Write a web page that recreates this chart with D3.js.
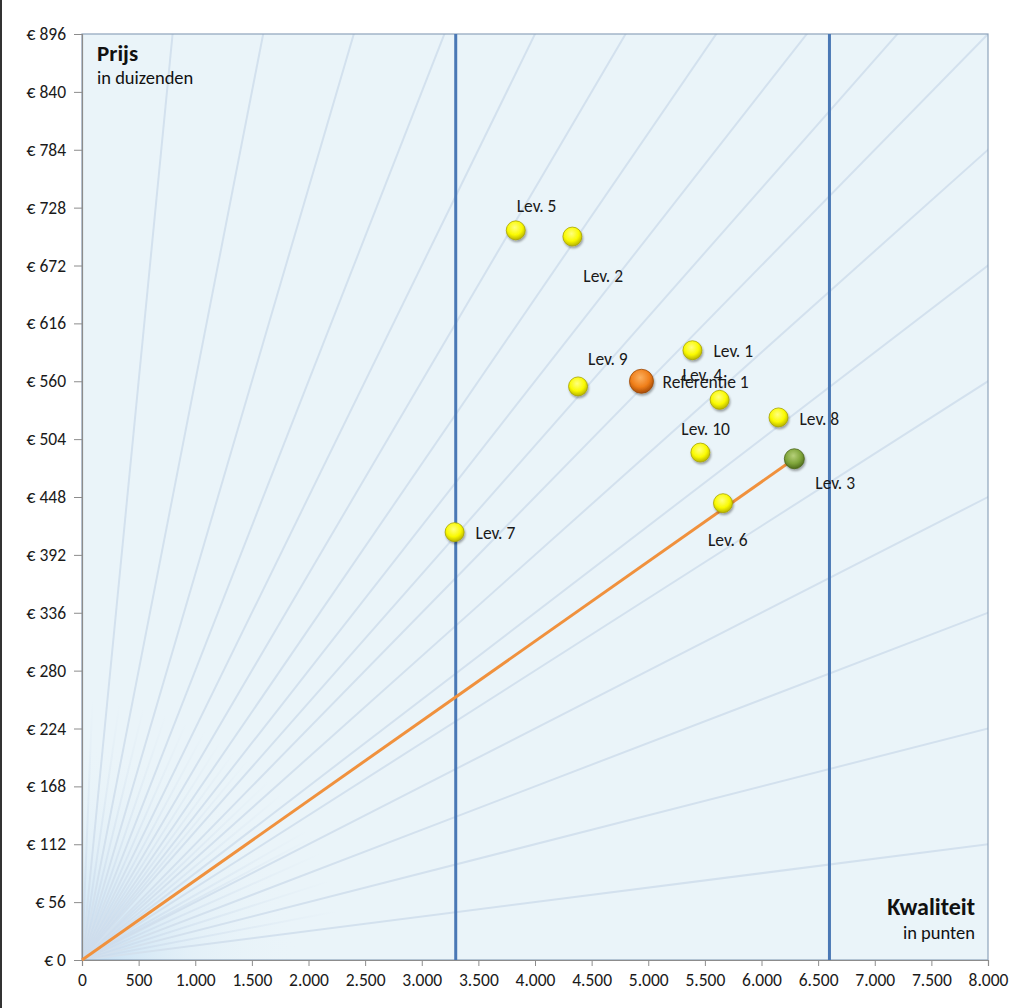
<!DOCTYPE html>
<html>
<head>
<meta charset="utf-8">
<script src="https://cdn.jsdelivr.net/npm/d3@7/dist/d3.min.js"></script>
<style>
  html, body { margin: 0; padding: 0; background: #ffffff; }
  svg { display: block; font-family: Carlito, Lato, "Open Sans", sans-serif; }
</style>
</head>
<body>
<svg id="chart" width="1024" height="1008"></svg>
<script>
// ---- data ----
const labels   = ["Lev. 5", "Lev. 2", "Lev. 1", "Lev. 9", "Referentie 1", "Lev. 4", "Lev. 8", "Lev. 10", "Lev. 3", "Lev. 6", "Lev. 7"];
const quality  = [3830, 4330, 5390, 4380, 4940, 5630, 6150, 5460, 6290, 5660, 3290];
const price    = [706, 700, 590, 555, 560, 542, 525, 491, 485, 442, 414];
const kinds    = ["lev", "lev", "lev", "lev", "ref", "lev", "lev", "lev", "best", "lev", "lev"];
const labelPos = ["above", "belowRight", "right", "aboveRight", "right", "aboveLeft", "right", "aboveLeftSmall", "rightLow", "below", "right"];
const xTicks   = [0, 500, 1000, 1500, 2000, 2500, 3000, 3500, 4000, 4500, 5000, 5500, 6000, 6500, 7000, 7500, 8000];
const yTicks   = [0, 56, 112, 168, 224, 280, 336, 392, 448, 504, 560, 616, 672, 728, 784, 840, 896];
const bounds   = [3300, 6600];
const bestLine = [[0, 0], [6290, 485]];
const raysTop  = [800, 1600, 2400, 3200, 4000, 4800, 5600, 6400, 7200];
const raysRight= [112, 224, 336, 448, 560, 672, 784, 896];

// ---- layout ----
const svg = d3.select("#chart");
const L = 82, R = 988, T = 34, B = 960;
const x = d3.scaleLinear().domain([0, 8000]).range([L, R]);
const y = d3.scaleLinear().domain([0, 896]).range([B, T]);
const nl = d3.formatLocale({decimal: ",", thousands: ".", grouping: [3], currency: ["€ ", ""]});
const fx = nl.format(",.0f");
const FONT = "Carlito, Lato, 'Open Sans', sans-serif";

const defs = svg.append("defs");
defs.append("clipPath").attr("id", "clip").append("rect")
  .attr("x", L).attr("y", T).attr("width", R - L).attr("height", B - T);
const glow = defs.append("radialGradient").attr("id", "glow")
  .attr("gradientUnits", "userSpaceOnUse").attr("cx", L).attr("cy", B).attr("r", 220);
glow.append("stop").attr("offset", "0").attr("stop-color", "#bcdaf2").attr("stop-opacity", 0.9);
glow.append("stop").attr("offset", "0.5").attr("stop-color", "#d6e9f6").attr("stop-opacity", 0.35);
glow.append("stop").attr("offset", "1").attr("stop-color", "#eaf4f9").attr("stop-opacity", 0);

function ball(id, c0, c1, c2) {
  const g = defs.append("radialGradient").attr("id", id)
    .attr("cx", "45%").attr("cy", "35%").attr("r", "65%");
  g.append("stop").attr("offset", "0").attr("stop-color", c0);
  g.append("stop").attr("offset", "0.6").attr("stop-color", c1);
  g.append("stop").attr("offset", "1").attr("stop-color", c2);
}
ball("gLev", "#ffff80", "#fafa00", "#b8b400");
ball("gRef", "#fbb060", "#f07f1a", "#a84c06");
ball("gBest", "#b6d07a", "#7fa53a", "#4f6d1c");
const sh = defs.append("filter").attr("id", "shadow").attr("x", "-50%").attr("y", "-50%").attr("width", "200%").attr("height", "200%");
sh.append("feDropShadow").attr("dx", 1).attr("dy", 2).attr("stdDeviation", 1.2).attr("flood-color", "#000").attr("flood-opacity", 0.35);

// left frame line of the picture
svg.append("rect").attr("x", 0).attr("y", 0).attr("width", 2).attr("height", 1008).attr("fill", "#333");

// plot background
svg.append("rect").attr("x", L).attr("y", T).attr("width", R - L).attr("height", B - T).attr("fill", "#eaf4f9");
const plot = svg.append("g").attr("clip-path", "url(#clip)");
plot.append("rect").attr("x", L).attr("y", T).attr("width", R - L).attr("height", B - T).attr("fill", "url(#glow)");

// fan of rays
const rayEnds = raysTop.map(q => [q, 896]).concat(raysRight.map(p => [8000, p]));
plot.selectAll("line.ray").data(rayEnds).join("line").attr("class", "ray")
  .attr("x1", x(0)).attr("y1", y(0))
  .attr("x2", d => x(0) + (x(d[0]) - x(0)) * 1.2).attr("y2", d => y(0) + (y(d[1]) - y(0)) * 1.2)
  .attr("stroke", "#d3e1ee").attr("stroke-width", 2);
// short in-between rays fading out
const mid = [];
for (let i = 0; i < rayEnds.length - 1; i++) {
  const a = Math.atan2(y(0) - y(rayEnds[i][1]), x(rayEnds[i][0]) - x(0));
  const b = Math.atan2(y(0) - y(rayEnds[i + 1][1]), x(rayEnds[i + 1][0]) - x(0));
  mid.push((a + b) / 2);
}
mid.push(Math.atan2(y(0) - y(896), 0) - 0.04);
mid.forEach((ang, i) => {
  const len = 260;
  const x2 = L + Math.cos(ang) * len, y2 = B - Math.sin(ang) * len;
  const gid = "fade" + i;
  const lg = defs.append("linearGradient").attr("id", gid).attr("gradientUnits", "userSpaceOnUse")
    .attr("x1", L).attr("y1", B).attr("x2", x2).attr("y2", y2);
  lg.append("stop").attr("offset", 0).attr("stop-color", "#cddcec").attr("stop-opacity", 0.9);
  lg.append("stop").attr("offset", 1).attr("stop-color", "#cddcec").attr("stop-opacity", 0);
  plot.append("line").attr("x1", L).attr("y1", B).attr("x2", x2).attr("y2", y2)
    .attr("stroke", `url(#${gid})`).attr("stroke-width", 2);
});

// frame
svg.append("rect").attr("x", L).attr("y", T).attr("width", R - L).attr("height", B - T)
  .attr("fill", "none").attr("stroke", "#8ea3bb").attr("stroke-width", 1.2);

// axes
const yAxis = svg.append("g").attr("transform", `translate(${L},0)`)
  .call(d3.axisLeft(y).tickValues(yTicks).tickSize(8).tickPadding(8).tickFormat(d => "€ " + d));
const xAxis = svg.append("g").attr("transform", `translate(0,${B})`)
  .call(d3.axisBottom(x).tickValues(xTicks).tickSize(6).tickPadding(8).tickFormat(fx));
[yAxis, xAxis].forEach(a => {
  a.select(".domain").attr("stroke", "#8c8c8c").attr("stroke-width", 1.2);
  a.selectAll(".tick line").attr("stroke", "#8c8c8c");
  a.selectAll(".tick text").attr("fill", "#1a1a1a").style("font-size", "17.5px").style("font-family", FONT);
});

// boundary lines
svg.selectAll("line.bound").data(bounds).join("line").attr("class", "bound")
  .attr("x1", d => x(d)).attr("x2", d => x(d)).attr("y1", T).attr("y2", B)
  .attr("stroke", "#4a78b5").attr("stroke-width", 3);

// best value line
svg.append("path").datum(bestLine)
  .attr("d", d3.line().x(d => x(d[0])).y(d => y(d[1])))
  .attr("stroke", "#f0913d").attr("stroke-width", 3).attr("fill", "none");

// axis titles
svg.append("text").attr("x", 97).attr("y", 61).text("Prijs")
  .style("font-size", "23px").style("font-weight", "bold").attr("fill", "#111");
svg.append("text").attr("x", 97).attr("y", 84).text("in duizenden")
  .style("font-size", "18.5px").attr("fill", "#111");
svg.append("text").attr("x", 975).attr("y", 915).attr("text-anchor", "end").text("Kwaliteit")
  .style("font-size", "24px").style("font-weight", "bold").attr("fill", "#111");
svg.append("text").attr("x", 975).attr("y", 939).attr("text-anchor", "end").text("in punten")
  .style("font-size", "18.5px").attr("fill", "#111");

// points
const pts = labels.map((l, i) => ({label: l, q: quality[i], p: price[i], kind: kinds[i], pos: labelPos[i]}));
const fills = {lev: "url(#gLev)", ref: "url(#gRef)", best: "url(#gBest)"};
const radius = {lev: 9.5, ref: 12, best: 10};
const strokes = {lev: "#a8a400", ref: "#9a4a08", best: "#4a6418"};
svg.selectAll("circle.pt").data(pts).join("circle").attr("class", "pt")
  .attr("cx", d => x(d.q)).attr("cy", d => y(d.p)).attr("r", d => radius[d.kind])
  .attr("fill", d => fills[d.kind]).attr("stroke", d => strokes[d.kind]).attr("stroke-width", 0.8)
  .attr("filter", "url(#shadow)");

// labels
const off = {
  above: [1, -24], belowRight: [11, 39], right: [21, 1], aboveRight: [10, -28],
  aboveLeft: [-37, -25], aboveLeftSmall: [-19, -24], rightLow: [21, 24], below: [-15, 37]
};
svg.selectAll("text.lbl").data(pts).join("text").attr("class", "lbl")
  .attr("x", d => x(d.q) + off[d.pos][0]).attr("y", d => y(d.p) + off[d.pos][1])
  .attr("dy", "0.35em").text(d => d.label)
  .style("font-size", "17.5px").attr("fill", "#1a1a1a");
</script>
</body>
</html>
